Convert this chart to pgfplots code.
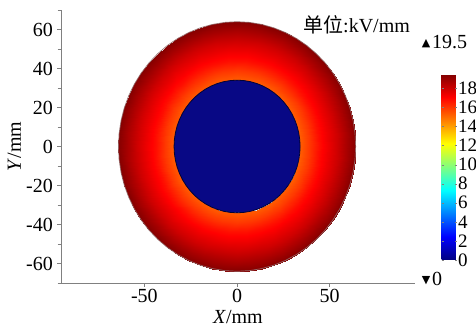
\documentclass[border=0pt]{standalone}
\usepackage{fontspec}
\setmainfont{Liberation Serif}
\newfontfamily\cjk{Noto Sans CJK SC}
\newfontfamily\dejavu{DejaVu Sans}
\usepackage{pgfplots}
\usepackage{pgfplotstable}
\pgfplotsset{compat=1.18}
\newcommand\fs{\fontsize{20}{22}\selectfont}
\definecolor{innerblue}{rgb}{0.03,0.03,0.52}
\definecolor{axgray}{rgb}{0.5,0.5,0.5}

\pgfplotstableread[row sep=\\]{
a d\\ 0 0\\ 6 0\\ 12 0\\ 18 0\\ 24 0\\ 30 0\\ 36 0\\ 42 0\\ 48 0\\ 54 0\\ 60 0\\ 66 0\\ 72 0\\ 78 0\\ 84 0\\ 90 0\\
96 0\\ 102 0\\ 108 0\\ 114 0\\ 120 0\\ 126 0\\ 132 0\\ 138 0\\ 144 0\\ 150 0\\ 156 0\\ 162 0\\ 168 0\\ 174 0\\ 180 0\\
186 0\\ 192 0\\ 198 0\\ 204 0\\ 210 0\\ 216 0\\ 222 0\\ 228 0\\ 234 0\\ 240 0\\ 246 0\\ 252 0\\ 258 0\\ 264 0\\ 270 0\\
276 0\\ 282 0\\ 288 0\\ 294 0\\ 300 0\\ 306 0\\ 312 0\\ 318 0\\ 324 0\\ 330 0\\ 336 0\\ 342 0\\ 348 0\\ 354 0\\ 360 0\\
}\angtab

% radial field profile E(r): r = 34, 39, 44, 49, 54, 59, 64 mm
\pgfplotstableread[row sep=\\]{
a r e\\
0 34 15.3\\ 6 34 15.3\\ 12 34 15.3\\ 18 34 15.3\\ 24 34 15.3\\ 30 34 15.3\\ 36 34 15.3\\ 42 34 15.3\\ 48 34 15.3\\ 54 34 15.3\\ 60 34 15.3\\
66 34 15.3\\ 72 34 15.3\\ 78 34 15.3\\ 84 34 15.3\\ 90 34 15.3\\ 96 34 15.3\\ 102 34 15.3\\ 108 34 15.3\\ 114 34 15.3\\ 120 34 15.3\\
126 34 15.3\\ 132 34 15.3\\ 138 34 15.3\\ 144 34 15.3\\ 150 34 15.3\\ 156 34 15.3\\ 162 34 15.3\\ 168 34 15.3\\ 174 34 15.3\\ 180 34 15.3\\
186 34 15.3\\ 192 34 15.3\\ 198 34 15.3\\ 204 34 15.3\\ 210 34 15.3\\ 216 34 15.3\\ 222 34 15.3\\ 228 34 15.3\\ 234 34 15.3\\ 240 34 15.3\\
246 34 15.3\\ 252 34 15.3\\ 258 34 15.3\\ 264 34 15.3\\ 270 34 15.3\\ 276 34 15.3\\ 282 34 15.3\\ 288 34 15.3\\ 294 34 15.3\\ 300 34 15.3\\
306 34 15.3\\ 312 34 15.3\\ 318 34 15.3\\ 324 34 15.3\\ 330 34 15.3\\ 336 34 15.3\\ 342 34 15.3\\ 348 34 15.3\\ 354 34 15.3\\ 360 34 15.3\\
0 39 16.0\\ 6 39 16.0\\ 12 39 16.0\\ 18 39 16.0\\ 24 39 16.0\\ 30 39 16.0\\ 36 39 16.0\\ 42 39 16.0\\ 48 39 16.0\\ 54 39 16.0\\ 60 39 16.0\\
66 39 16.0\\ 72 39 16.0\\ 78 39 16.0\\ 84 39 16.0\\ 90 39 16.0\\ 96 39 16.0\\ 102 39 16.0\\ 108 39 16.0\\ 114 39 16.0\\ 120 39 16.0\\
126 39 16.0\\ 132 39 16.0\\ 138 39 16.0\\ 144 39 16.0\\ 150 39 16.0\\ 156 39 16.0\\ 162 39 16.0\\ 168 39 16.0\\ 174 39 16.0\\ 180 39 16.0\\
186 39 16.0\\ 192 39 16.0\\ 198 39 16.0\\ 204 39 16.0\\ 210 39 16.0\\ 216 39 16.0\\ 222 39 16.0\\ 228 39 16.0\\ 234 39 16.0\\ 240 39 16.0\\
246 39 16.0\\ 252 39 16.0\\ 258 39 16.0\\ 264 39 16.0\\ 270 39 16.0\\ 276 39 16.0\\ 282 39 16.0\\ 288 39 16.0\\ 294 39 16.0\\ 300 39 16.0\\
306 39 16.0\\ 312 39 16.0\\ 318 39 16.0\\ 324 39 16.0\\ 330 39 16.0\\ 336 39 16.0\\ 342 39 16.0\\ 348 39 16.0\\ 354 39 16.0\\ 360 39 16.0\\
0 44 16.8\\ 6 44 16.8\\ 12 44 16.8\\ 18 44 16.8\\ 24 44 16.8\\ 30 44 16.8\\ 36 44 16.8\\ 42 44 16.8\\ 48 44 16.8\\ 54 44 16.8\\ 60 44 16.8\\
66 44 16.8\\ 72 44 16.8\\ 78 44 16.8\\ 84 44 16.8\\ 90 44 16.8\\ 96 44 16.8\\ 102 44 16.8\\ 108 44 16.8\\ 114 44 16.8\\ 120 44 16.8\\
126 44 16.8\\ 132 44 16.8\\ 138 44 16.8\\ 144 44 16.8\\ 150 44 16.8\\ 156 44 16.8\\ 162 44 16.8\\ 168 44 16.8\\ 174 44 16.8\\ 180 44 16.8\\
186 44 16.8\\ 192 44 16.8\\ 198 44 16.8\\ 204 44 16.8\\ 210 44 16.8\\ 216 44 16.8\\ 222 44 16.8\\ 228 44 16.8\\ 234 44 16.8\\ 240 44 16.8\\
246 44 16.8\\ 252 44 16.8\\ 258 44 16.8\\ 264 44 16.8\\ 270 44 16.8\\ 276 44 16.8\\ 282 44 16.8\\ 288 44 16.8\\ 294 44 16.8\\ 300 44 16.8\\
306 44 16.8\\ 312 44 16.8\\ 318 44 16.8\\ 324 44 16.8\\ 330 44 16.8\\ 336 44 16.8\\ 342 44 16.8\\ 348 44 16.8\\ 354 44 16.8\\ 360 44 16.8\\
0 49 17.4\\ 6 49 17.4\\ 12 49 17.4\\ 18 49 17.4\\ 24 49 17.4\\ 30 49 17.4\\ 36 49 17.4\\ 42 49 17.4\\ 48 49 17.4\\ 54 49 17.4\\ 60 49 17.4\\
66 49 17.4\\ 72 49 17.4\\ 78 49 17.4\\ 84 49 17.4\\ 90 49 17.4\\ 96 49 17.4\\ 102 49 17.4\\ 108 49 17.4\\ 114 49 17.4\\ 120 49 17.4\\
126 49 17.4\\ 132 49 17.4\\ 138 49 17.4\\ 144 49 17.4\\ 150 49 17.4\\ 156 49 17.4\\ 162 49 17.4\\ 168 49 17.4\\ 174 49 17.4\\ 180 49 17.4\\
186 49 17.4\\ 192 49 17.4\\ 198 49 17.4\\ 204 49 17.4\\ 210 49 17.4\\ 216 49 17.4\\ 222 49 17.4\\ 228 49 17.4\\ 234 49 17.4\\ 240 49 17.4\\
246 49 17.4\\ 252 49 17.4\\ 258 49 17.4\\ 264 49 17.4\\ 270 49 17.4\\ 276 49 17.4\\ 282 49 17.4\\ 288 49 17.4\\ 294 49 17.4\\ 300 49 17.4\\
306 49 17.4\\ 312 49 17.4\\ 318 49 17.4\\ 324 49 17.4\\ 330 49 17.4\\ 336 49 17.4\\ 342 49 17.4\\ 348 49 17.4\\ 354 49 17.4\\ 360 49 17.4\\
0 54 18.0\\ 6 54 18.0\\ 12 54 18.0\\ 18 54 18.0\\ 24 54 18.0\\ 30 54 18.0\\ 36 54 18.0\\ 42 54 18.0\\ 48 54 18.0\\ 54 54 18.0\\ 60 54 18.0\\
66 54 18.0\\ 72 54 18.0\\ 78 54 18.0\\ 84 54 18.0\\ 90 54 18.0\\ 96 54 18.0\\ 102 54 18.0\\ 108 54 18.0\\ 114 54 18.0\\ 120 54 18.0\\
126 54 18.0\\ 132 54 18.0\\ 138 54 18.0\\ 144 54 18.0\\ 150 54 18.0\\ 156 54 18.0\\ 162 54 18.0\\ 168 54 18.0\\ 174 54 18.0\\ 180 54 18.0\\
186 54 18.0\\ 192 54 18.0\\ 198 54 18.0\\ 204 54 18.0\\ 210 54 18.0\\ 216 54 18.0\\ 222 54 18.0\\ 228 54 18.0\\ 234 54 18.0\\ 240 54 18.0\\
246 54 18.0\\ 252 54 18.0\\ 258 54 18.0\\ 264 54 18.0\\ 270 54 18.0\\ 276 54 18.0\\ 282 54 18.0\\ 288 54 18.0\\ 294 54 18.0\\ 300 54 18.0\\
306 54 18.0\\ 312 54 18.0\\ 318 54 18.0\\ 324 54 18.0\\ 330 54 18.0\\ 336 54 18.0\\ 342 54 18.0\\ 348 54 18.0\\ 354 54 18.0\\ 360 54 18.0\\
0 59 18.7\\ 6 59 18.7\\ 12 59 18.7\\ 18 59 18.7\\ 24 59 18.7\\ 30 59 18.7\\ 36 59 18.7\\ 42 59 18.7\\ 48 59 18.7\\ 54 59 18.7\\ 60 59 18.7\\
66 59 18.7\\ 72 59 18.7\\ 78 59 18.7\\ 84 59 18.7\\ 90 59 18.7\\ 96 59 18.7\\ 102 59 18.7\\ 108 59 18.7\\ 114 59 18.7\\ 120 59 18.7\\
126 59 18.7\\ 132 59 18.7\\ 138 59 18.7\\ 144 59 18.7\\ 150 59 18.7\\ 156 59 18.7\\ 162 59 18.7\\ 168 59 18.7\\ 174 59 18.7\\ 180 59 18.7\\
186 59 18.7\\ 192 59 18.7\\ 198 59 18.7\\ 204 59 18.7\\ 210 59 18.7\\ 216 59 18.7\\ 222 59 18.7\\ 228 59 18.7\\ 234 59 18.7\\ 240 59 18.7\\
246 59 18.7\\ 252 59 18.7\\ 258 59 18.7\\ 264 59 18.7\\ 270 59 18.7\\ 276 59 18.7\\ 282 59 18.7\\ 288 59 18.7\\ 294 59 18.7\\ 300 59 18.7\\
306 59 18.7\\ 312 59 18.7\\ 318 59 18.7\\ 324 59 18.7\\ 330 59 18.7\\ 336 59 18.7\\ 342 59 18.7\\ 348 59 18.7\\ 354 59 18.7\\ 360 59 18.7\\
0 64 19.4\\ 6 64 19.4\\ 12 64 19.4\\ 18 64 19.4\\ 24 64 19.4\\ 30 64 19.4\\ 36 64 19.4\\ 42 64 19.4\\ 48 64 19.4\\ 54 64 19.4\\ 60 64 19.4\\
66 64 19.4\\ 72 64 19.4\\ 78 64 19.4\\ 84 64 19.4\\ 90 64 19.4\\ 96 64 19.4\\ 102 64 19.4\\ 108 64 19.4\\ 114 64 19.4\\ 120 64 19.4\\
126 64 19.4\\ 132 64 19.4\\ 138 64 19.4\\ 144 64 19.4\\ 150 64 19.4\\ 156 64 19.4\\ 162 64 19.4\\ 168 64 19.4\\ 174 64 19.4\\ 180 64 19.4\\
186 64 19.4\\ 192 64 19.4\\ 198 64 19.4\\ 204 64 19.4\\ 210 64 19.4\\ 216 64 19.4\\ 222 64 19.4\\ 228 64 19.4\\ 234 64 19.4\\ 240 64 19.4\\
246 64 19.4\\ 252 64 19.4\\ 258 64 19.4\\ 264 64 19.4\\ 270 64 19.4\\ 276 64 19.4\\ 282 64 19.4\\ 288 64 19.4\\ 294 64 19.4\\ 300 64 19.4\\
306 64 19.4\\ 312 64 19.4\\ 318 64 19.4\\ 324 64 19.4\\ 330 64 19.4\\ 336 64 19.4\\ 342 64 19.4\\ 348 64 19.4\\ 354 64 19.4\\ 360 64 19.4\\
}\ring

\begin{document}
\begin{tikzpicture}
\begin{axis}[
  scale only axis, width=354pt, height=273pt,
  xmin=-95, xmax=96, ymin=-70, ymax=70,
  axis lines=left,
  axis line style={-, draw=axgray, line width=0.8pt},
  tick style={draw=axgray, line width=0.8pt},
  tick align=outside,
  major tick length=4pt, minor tick length=3.5pt,
  xtick={-50,0,50}, ytick={-60,-40,...,60},
  minor ytick={-70,-50,...,70},
  tick label style={font=\fs},
  xticklabel style={inner sep=1pt, yshift=-1pt},
  yticklabel style={inner sep=4pt},
  /pgf/number format/assume math mode=true,
  xlabel={\textit{X}/mm}, ylabel={\textit{Y}/mm},
  label style={font=\fs, inner sep=0pt},
  xlabel style={at={(axis description cs:0.5,-0.147)}, anchor=base},
  ylabel style={at={(axis description cs:-0.113,0.5)}, anchor=base},
  colormap/jet, point meta min=0, point meta max=19.5,
  colorbar,
  colorbar style={
    scale only axis,
    at={(parent axis.south west)}, anchor=south west,
    xshift=372pt, yshift=23pt,
    width=15pt, height=186pt,
    ytick={0,2,...,18},
    yticklabel style={font=\fontsize{19}{20}\selectfont, inner sep=1.5pt},
    axis line style={draw=none},
    major tick length=2pt,
    tick style={draw=black!50},
    /pgf/number format/assume math mode=true,
  },
]
\addplot[surf, shader=interp, mesh/rows=7, mesh/cols=61, point meta=explicit]
  table[x expr={\thisrow{r}*cos(\thisrow{a})}, y expr={\thisrow{r}*sin(\thisrow{a})}, meta=e] {\ring};
\addplot[fill=innerblue, draw=black!60!innerblue, line width=0.8pt]
  table[x expr={34*cos(\thisrow{a})}, y expr={34*sin(\thisrow{a})}] {\angtab};
\addplot[draw=black!70!red!60, line width=0.7pt]
  table[x expr={64*cos(\thisrow{a})}, y expr={64*sin(\thisrow{a})}] {\angtab};
\end{axis}
\node[anchor=base west, inner sep=0pt, font=\fs] at (242pt,250pt) {{\cjk 单位}:kV/mm};
\node[anchor=base west, inner sep=0pt, font=\fs] at (371pt,234pt) {19.5};
\node[anchor=base east, inner sep=0.5pt, font=\dejavu\fontsize{11}{12}\selectfont] at (370pt,236pt) {▲};
\node[anchor=base west, inner sep=0pt, font=\fs] at (371pt,-3pt) {0};
\node[anchor=base east, inner sep=0.5pt, font=\dejavu\fontsize{11}{12}\selectfont] at (370pt,-1pt) {▼};
\pgfresetboundingbox
\path[use as bounding box] (-61pt,-43pt) rectangle (415pt,283pt);
\end{tikzpicture}
\end{document}
